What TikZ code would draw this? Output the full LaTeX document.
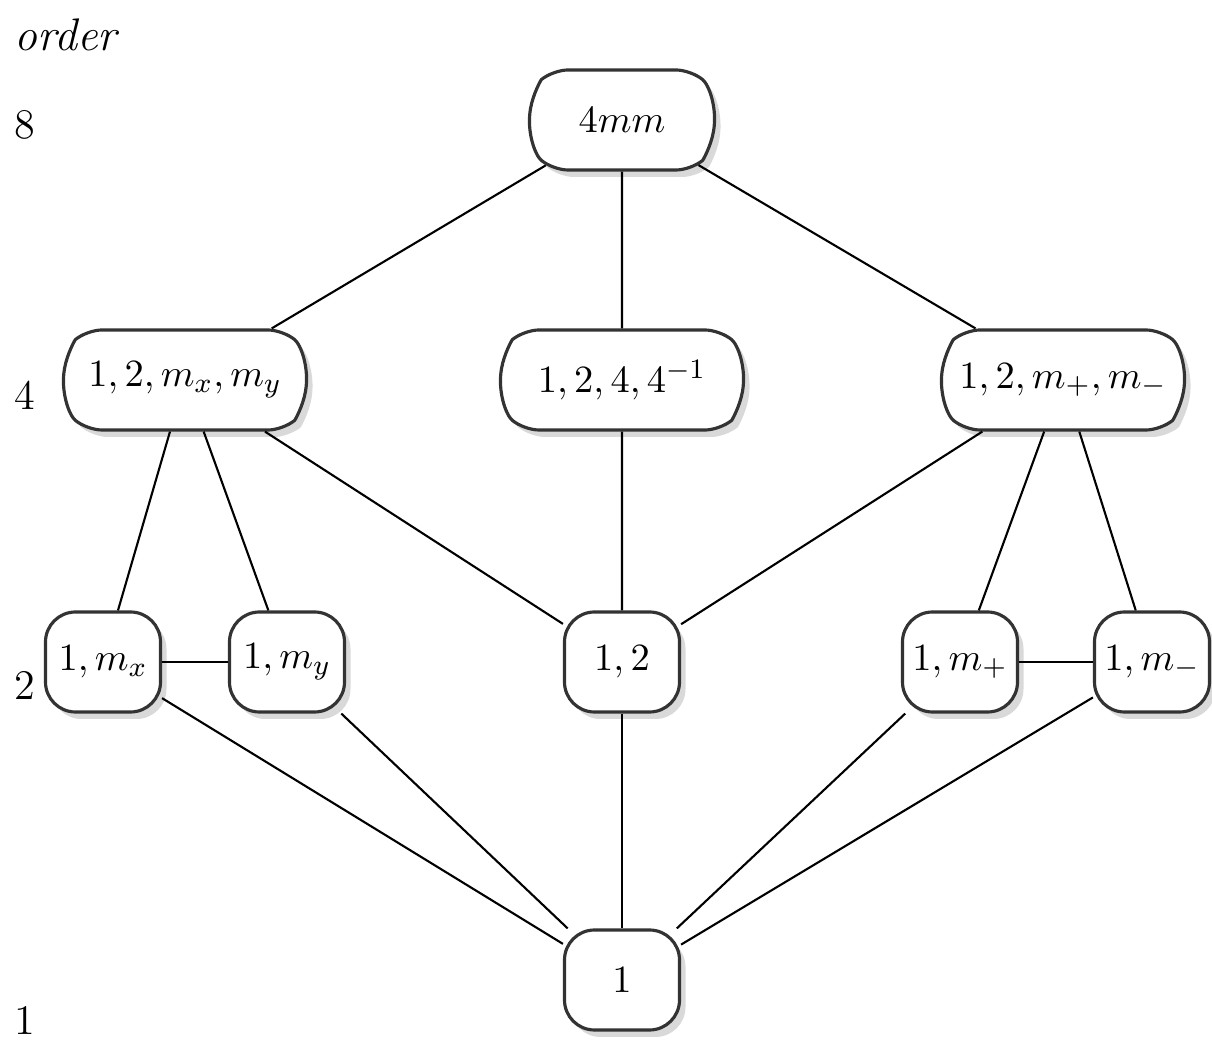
\documentclass[tikz,border=0pt]{standalone}
\usepackage{amsmath}
\usetikzlibrary{shapes.misc,shadows}

\begin{document}
\begin{tikzpicture}[x=1cm,y=-1cm,line width=0.6pt,
  grp/.style={draw=black!80,line width=0.9pt,fill=white,
    minimum height=1cm,inner xsep=0pt,
    font=\fontsize{11}{13}\selectfont,
    drop shadow={shadow xshift=0.6mm,shadow yshift=-0.7mm,opacity=0.3}},
  top/.style={grp,rounded rectangle,rounded corners=1.5mm,
    rounded rectangle arc length=100,minimum width=1.85cm},
  wide/.style={grp,rounded rectangle,rounded corners=1.5mm,
    rounded rectangle arc length=100,minimum width=2.43cm},
  small/.style={grp,rectangle,rounded corners=3mm,minimum width=1.15cm},
  lvl/.style={font=\fontsize{12}{14}\selectfont}]
\useasboundingbox (0,0) rectangle (12.12,10.40);
\node[lvl,anchor=west,font=\fontsize{13}{15}\selectfont\itshape] (ord) at (0.02,0.35) {order};
\node[lvl] (o8) at (0.25,1.25) {8};
\node[lvl] (o4) at (0.25,3.95) {4};
\node[lvl] (o2) at (0.25,6.85) {2};
\node[lvl] (o1) at (0.25,10.20) {1};

\node[top] (g8) at (6.22,1.20) {$4mm$};
\node[wide] (mxy) at (1.85,3.80) {$1,2,m_x,m_y$};
\node[wide] (rot) at (6.22,3.80) {$1,2,4,4^{-1}$};
\node[wide] (mpm) at (10.63,3.80) {$1,2,m_+,m_-$};
\node[small] (mx) at (1.03,6.62) {$1,m_x$};
\node[small] (my) at (2.87,6.62) {$1,m_y$};
\node[small] (two) at (6.22,6.62) {$1,2$};
\node[small] (mp) at (9.60,6.62) {$1,m_+$};
\node[small] (mm) at (11.52,6.62) {$1,m_-$};
\node[small] (one) at (6.22,9.80) {$1$};

\foreach \a/\b in {g8/mxy,g8/rot,g8/mpm,mxy/mx,mxy/my,mxy/two,rot/two,mpm/two,
  mpm/mp,mpm/mm,mx/my,mp/mm,mx/one,my/one,two/one,mp/one,mm/one}
  \draw (\a) -- (\b);
\end{tikzpicture}
\end{document}
